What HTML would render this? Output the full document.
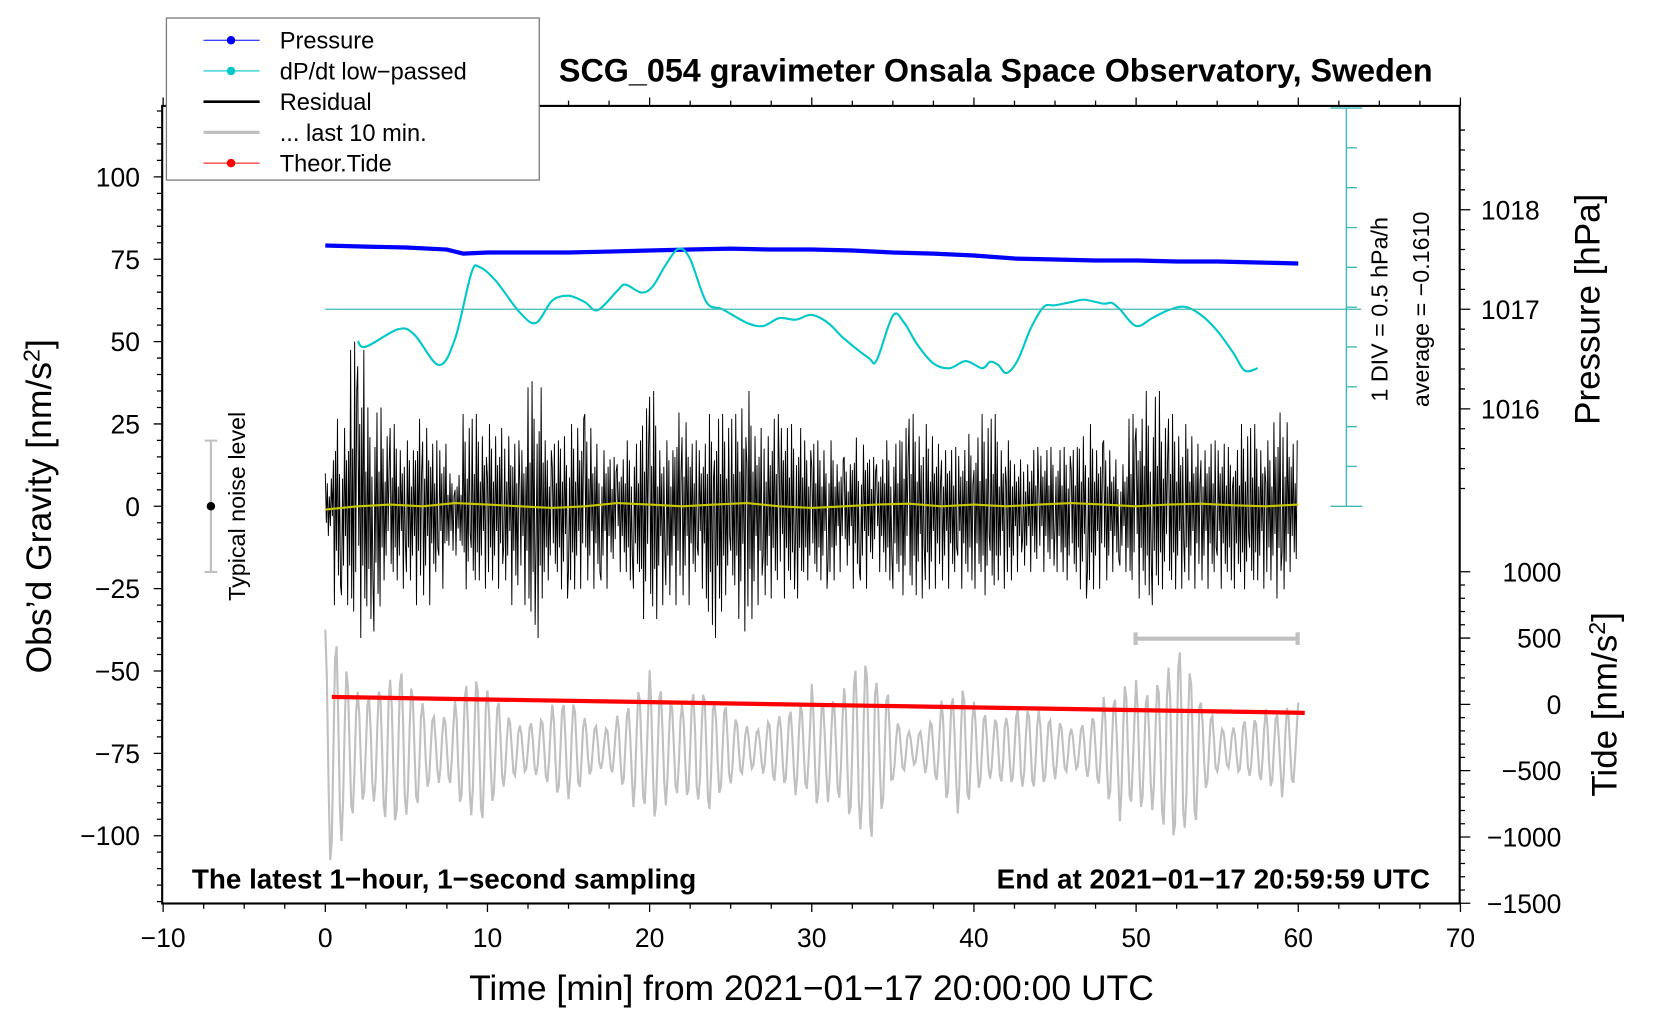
<!DOCTYPE html>
<html><head><meta charset="utf-8"><style>
html,body{margin:0;padding:0;background:#fff;}
svg{display:block;font-family:"Liberation Sans",sans-serif;}
</style></head><body>
<svg id="chart" width="1660" height="1020" viewBox="0 0 1567 963" xmlns="http://www.w3.org/2000/svg">
<g id="marks"></g>
<g id="axes"></g>
</svg>
<script>
// ---- data ----
const xTicks = [-10,0,10,20,30,40,50,60,70];
const yTicks = [100,75,50,25,0,-25,-50,-75,-100];
const pTicks = [1018,1017,1016];
const tideTicks = [1000,500,0,-500,-1000,-1500];
const pressT = [0,2.5,5,7.5,8.5,10,12.5,15,17.5,20,22.5,25,27.5,30,32.5,35,37.5,40,42.5,45,47.5,50,52.5,55,57.5,60];
const pressV = [1017.64,1017.63,1017.62,1017.60,1017.56,1017.57,1017.57,1017.57,1017.58,1017.59,1017.60,1017.61,1017.60,1017.60,1017.59,1017.57,1017.56,1017.54,1017.51,1017.50,1017.49,1017.49,1017.48,1017.48,1017.47,1017.46];
const dpdtT = [2,2.5,4.5,5.5,7,8,9,9.5,10.5,12,13,14,15,16,16.8,18,18.5,19.5,20.2,21,21.8,22.5,23.5,24.5,26,27,28,29,30,31,32,33.5,34,35,35.7,36.5,37.5,38.5,39.5,40.5,41,41.5,42,42.7,43.5,44.3,45,46,46.8,48,48.5,49,50,51,52,53,54,55,56,56.7,57.5];
const dpdtV = [-0.40,-0.47,-0.25,-0.32,-0.70,-0.37,0.45,0.53,0.36,-0.04,-0.17,0.11,0.17,0.09,-0.01,0.23,0.31,0.21,0.29,0.56,0.76,0.63,0.09,0,-0.17,-0.21,-0.11,-0.13,-0.07,-0.17,-0.37,-0.61,-0.64,-0.08,-0.17,-0.44,-0.68,-0.74,-0.65,-0.74,-0.66,-0.70,-0.80,-0.64,-0.24,0.03,0.05,0.09,0.12,0.07,0.08,0,-0.21,-0.11,-0.01,0.03,-0.07,-0.27,-0.55,-0.77,-0.74];
const resMax = [10,28,50,30,25,20,28,20,10,28,25,25,20,38,20,25,28,20,15,20,35,20,30,20,28,28,35,25,28,25,20,20,15,22,15,20,28,25,20,18,22,28,20,15,18,18,18,25,20,15,28,35,28,25,20,20,18,25,20,30,20];
const resMin = [-10,-30,-40,-38,-25,-25,-30,-25,-15,-28,-25,-25,-30,-40,-25,-28,-25,-25,-20,-25,-38,-30,-30,-25,-40,-30,-38,-30,-28,-28,-25,-25,-20,-25,-20,-25,-30,-28,-25,-25,-25,-30,-25,-20,-20,-20,-25,-28,-25,-20,-28,-30,-28,-25,-25,-25,-25,-28,-25,-28,-20];
const yellowV = [-1,0,0.5,0,1,0.5,0,-0.5,0,1,0.5,0,0.5,1,0,-0.5,0,0.5,0.8,0,0.5,0,0.5,1,0.5,0,0.5,0.8,0.3,0,0.5];
const grayAmp = [900,850,800,700,600,500,450,500,600,550,450,400,350,300,350,400,350,300,350,450,650,700,650,500,350,300,300,350,300,350,600,750,800,700,500,300,250,300,400,500,500,450,350,300,300,350,300,300,400,600,850,900,800,600,400,300,300,250,300,450,650];
const tideT = [0.4,60.4];
const tideV = [56,-64];

// ---- scales (viewBox units) ----
const X = t => 307 + t*15.31;
const Y = v => 478 - v*3.11;
const P = p => 292 - (p-1017)*94;
const T = v => 665 - v*0.1252;
const D = v => 292 - v/0.5*37.6;

const NS='http://www.w3.org/2000/svg';
const marks=document.getElementById('marks'), axes=document.getElementById('axes');
function mk(tag,attrs,parent){const e=document.createElementNS(NS,tag);for(const k in attrs)e.setAttribute(k,attrs[k]);(parent||marks).appendChild(e);return e;}

// gray last 10 min
let gd='';
for(let i=0;i<=600;i++){const t=i*0.1;const k=Math.min(60,Math.floor(t));const a=grayAmp[k];
 const v=-335 + a*Math.cos(t*2*Math.PI*1.5)*(0.75+0.25*Math.cos(t*1.3));
 gd+=(i?'L':'M')+X(t).toFixed(1)+' '+T(v).toFixed(1);}
const gp=mk('path',{d:gd,fill:'none',stroke:'#c0c0c0','stroke-width':2});



// residual
const pat=[1,-0.5,0.7,-0.9,0.3,-0.6,0.85,-0.3,0.5,-1,0.6,-0.45,0.95,-0.7,0.35,-0.8];
let rd='';let n=0;
for(let k=0;k<60;k++){for(let j=0;j<16;j++){const t=k+j/16;const f=pat[(j+k*3)%16];
 const a=j<8?[resMax[k],resMin[k]]:[resMax[k+1],resMin[k+1]];
 const v=f>0?a[0]*f:-a[1]*f;
 rd+=(n++?'L':'M')+X(t).toFixed(1)+' '+Y(v).toFixed(1);}}
const rp=mk('path',{d:rd,fill:'none',stroke:'#000','stroke-width':0.9});



// yellow
const yd=yellowV.map((v,i)=>(i?'L':'M')+X(i*2).toFixed(1)+' '+Y(v).toFixed(1)).join('');
const yp=mk('path',{d:yd,fill:'none',stroke:'#c8c800','stroke-width':2});



// tide
const tp=mk('path',{d:'M'+X(tideT[0])+' '+T(tideV[0])+'L'+X(tideT[1])+' '+T(tideV[1]),stroke:'#f00','stroke-width':4,fill:'none'});



// pressure
const pd=pressT.map((t,i)=>(i?'L':'M')+X(t).toFixed(1)+' '+P(pressV[i]).toFixed(1)).join('');
const pp=mk('path',{d:pd,fill:'none',stroke:'#0000ff','stroke-width':4});



// dp/dt smooth
function smooth(xs,ys){let d='M'+xs[0]+' '+ys[0];for(let i=0;i<xs.length-1;i++){const x0=xs[Math.max(0,i-1)],y0=ys[Math.max(0,i-1)],x1=xs[i],y1=ys[i],x2=xs[i+1],y2=ys[i+1],x3=xs[Math.min(xs.length-1,i+2)],y3=ys[Math.min(xs.length-1,i+2)];
 d+='C'+(x1+(x2-x0)/6).toFixed(1)+' '+(y1+(y2-y0)/6).toFixed(1)+' '+(x2-(x3-x1)/6).toFixed(1)+' '+(y2-(y3-y1)/6).toFixed(1)+' '+x2.toFixed(1)+' '+y2.toFixed(1);}return d;}
const dp=mk('path',{d:smooth(dpdtT.map(X),dpdtV.map(D)),fill:'none',stroke:'#00c8c8','stroke-width':2});


const zl=mk('line',{x1:307,x2:1285,y1:D(0),y2:D(0),stroke:'#40b8b8','stroke-width':1.2});



// ---- axes ----
function tx(x,y,s,attrs,par){const e=mk('text',Object.assign({x:x,y:y},attrs||{}),par||axes);e.textContent=s;return e;}
const fr=mk('rect',{x:153,y:100,width:1225,height:753,fill:'none',stroke:'#000','stroke-width':2},axes);


let tk='';
for(let t=-10;t<=70;t+=2.5){const L=(t%10===0)?8:5;tk+='M'+X(t)+' 853v'+L+'M'+X(t)+' 100v-'+L;}
for(let v=-120;v<=120;v+=5){if(Y(v)<100||Y(v)>853)continue;const L=(v%25===0)?8:5;tk+='M153 '+Y(v)+'h-'+L;}
for(let p=1015.2;p<=1018.9;p+=0.2){const y=P(+p.toFixed(1));if(y<100||y>478)continue;const L=(Math.abs(p-Math.round(p))<0.01)?10:5;tk+='M1378 '+y+'h'+L;}
for(let v=-1500;v<=1000;v+=100){const y=T(v);const L=(v%500===0)?10:5;tk+='M1378 '+y+'h'+L;}
mk('path',{d:tk,stroke:'#000','stroke-width':1.2,fill:'none'},axes);
xTicks.forEach(t=>{const e=tx(X(t),894,String(t).replace('-','\u2212'),{'font-size':25,'text-anchor':'middle'});});
yTicks.forEach(v=>{const e=tx(132,Y(v)+9,String(v).replace('-','\u2212'),{'font-size':25,'text-anchor':'end'});});
pTicks.forEach(p=>{const e=tx(1398,P(p)+9,String(p),{'font-size':25});});
tideTicks.forEach(v=>{const e=tx(1474,T(v)+9,String(v).replace('-','\u2212'),{'font-size':25,'text-anchor':'end'});});

// cyan scale
let cd='M1271 102V478M1256 102h30M1256 478h30';
for(let i=1;i<10;i++){cd+='M1271 '+(102+i*37.6)+'h10';}
mk('path',{d:cd,stroke:'#40b8b8','stroke-width':1.3,fill:'none'},axes);
tx(1310,292,'1 DIV = 0.5 hPa/h',{'font-size':22,'text-anchor':'middle',transform:'rotate(-90 1310 292)'});
tx(1349,292,'average = \u22120.1610',{'font-size':22,'text-anchor':'middle',transform:'rotate(-90 1349 292)'});

// noise bar
mk('path',{d:'M199 416V540M193 416h12M193 540h12',stroke:'#c0c0c0','stroke-width':2,fill:'none'},axes);
mk('circle',{cx:199,cy:478,r:4,fill:'#000'},axes);
tx(231,478,'Typical noise level',{'font-size':22,'text-anchor':'middle',transform:'rotate(-90 231 478)'});
// 10-min bar
mk('path',{d:'M1072 603H1225M1072 597v12M1225 597v12',stroke:'#c0c0c0','stroke-width':4,fill:'none'},axes);

// texts
const ttl=tx(940,77,'SCG_054 gravimeter Onsala Space Observatory, Sweden',{'font-size':30.5,'font-weight':'bold','text-anchor':'middle'});

tx(181,839,'The latest 1\u2212hour, 1\u2212second sampling',{'font-size':26.3,'font-weight':'bold'});
tx(1350,839,'End at 2021\u221201\u221217 20:59:59 UTC',{'font-size':26.3,'font-weight':'bold','text-anchor':'end'});
const xl=tx(766,944,'Time [min] from 2021\u221201\u221217 20:00:00 UTC',{'font-size':33.5,'text-anchor':'middle'});

const yl=mk('text',{x:48,y:478,'font-size':33.5,'text-anchor':'middle',transform:'rotate(-90 48 478)'},axes);
yl.innerHTML='Obs\u2019d Gravity [nm/s<tspan dy="-11" font-size="22">2</tspan><tspan dy="11">]</tspan>';

const pl=tx(1510,292,'Pressure [hPa]',{'font-size':33,'text-anchor':'middle',transform:'rotate(-90 1510 292)'});

const tl=mk('text',{x:1526,y:665,'font-size':33,'text-anchor':'middle',transform:'rotate(-90 1526 665)'},axes);
tl.innerHTML='Tide [nm/s<tspan dy="-11" font-size="22">2</tspan><tspan dy="11">]</tspan>';


// legend
const lg=mk('g',{},axes);

mk('rect',{x:157,y:17,width:352,height:153,fill:'#fff',stroke:'#777','stroke-width':1.2},lg);
const leg=[['Pressure','#0000ff',1,true],['dP/dt low\u2212passed','#00c8c8',1,true],['Residual','#000',2.5,false],['... last 10 min.','#c0c0c0',3,false],['Theor.Tide','#ff0000',1,true]];
leg.forEach((l,i)=>{const y=38+i*29;
 mk('line',{x1:192,x2:245,y1:y,y2:y,stroke:l[1],'stroke-width':l[2]},lg);
 if(l[3])mk('circle',{cx:218,cy:y,r:4,fill:l[1]},lg);
 const e=tx(264,y+8,l[0],{'font-size':22.3},lg);
 });
</script>
</body></html>
